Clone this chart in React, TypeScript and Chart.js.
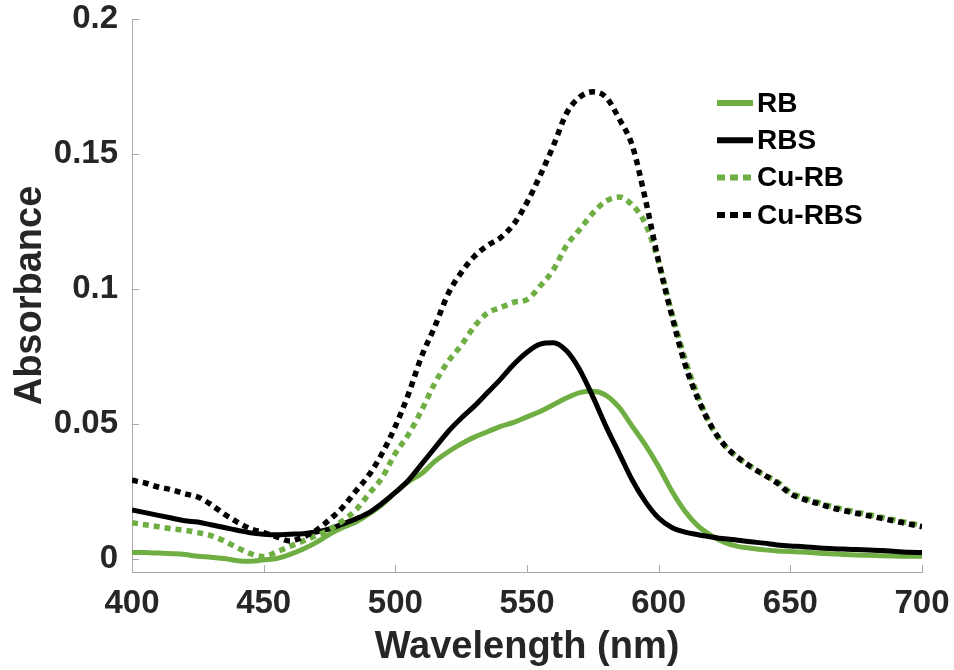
import React, { useEffect, useRef } from "react";
import { Chart, registerables } from "chart.js";

Chart.register(...registerables);

const wavelengths = [
  400, 405, 410, 415, 420, 425, 430, 435, 440, 445, 450, 455, 460, 465, 470, 475, 480, 485, 490, 495,
  500, 505, 510, 515, 520, 525, 530, 535, 540, 545, 550, 555, 560, 565, 570, 575, 580, 585, 590, 595,
  600, 605, 610, 615, 620, 625, 630, 635, 640, 645, 650, 655, 660, 665, 670, 675, 680, 685, 690, 695, 700,
];

const rb = [
  0.0022, 0.0022, 0.002, 0.0018, 0.0015, 0.0008, 0.0005, 0.0, -0.0008, -0.001, -0.0005, 0.0, 0.0015, 0.0035, 0.006, 0.009, 0.0115, 0.0135, 0.0165, 0.02,
  0.0245, 0.0285, 0.0315, 0.036, 0.0395, 0.0425, 0.045, 0.047, 0.049, 0.0505, 0.0525, 0.0545, 0.057, 0.0595, 0.0615, 0.062, 0.0605, 0.056, 0.049, 0.042,
  0.034, 0.025, 0.0175, 0.012, 0.0085, 0.006, 0.0045, 0.0038, 0.0032, 0.0028, 0.0026, 0.0024, 0.002, 0.0018, 0.0015, 0.0013, 0.0012, 0.001, 0.0009, 0.0008, 0.0008,
];

const rbs = [
  0.018, 0.017, 0.016, 0.015, 0.014, 0.0135, 0.0125, 0.0115, 0.0105, 0.0095, 0.009, 0.0088, 0.009, 0.0092, 0.0098, 0.011, 0.0128, 0.0147, 0.017, 0.0205,
  0.0245, 0.029, 0.035, 0.041, 0.047, 0.052, 0.0565, 0.0615, 0.0665, 0.072, 0.0765, 0.0795, 0.08, 0.077, 0.07, 0.06, 0.049, 0.039, 0.029, 0.021,
  0.015, 0.0115, 0.0098, 0.0088, 0.008, 0.0073, 0.0068, 0.0062, 0.0057, 0.005, 0.0046, 0.0044, 0.004, 0.0037, 0.0035, 0.0033, 0.0032, 0.003, 0.0026, 0.0023, 0.0022,
];

const cuRb = [
  0.0133, 0.0125, 0.0118, 0.011, 0.0105, 0.0096, 0.0085, 0.0065, 0.004, 0.0018, 0.0007, 0.0025, 0.0045, 0.0065, 0.0085, 0.0107, 0.014, 0.018, 0.024, 0.03,
  0.039, 0.046, 0.055, 0.065, 0.073, 0.079, 0.086, 0.091, 0.093, 0.095, 0.096, 0.101, 0.107, 0.116, 0.122, 0.128, 0.1325, 0.134, 0.131, 0.124,
  0.11, 0.091, 0.074, 0.06, 0.049, 0.042, 0.0375, 0.034, 0.031, 0.0285, 0.0245, 0.0225, 0.021, 0.0195, 0.0183, 0.0172, 0.0162, 0.0152, 0.0142, 0.0132, 0.0122,
];

const cuRbs = [
  0.029, 0.028, 0.0265, 0.0255, 0.024, 0.0228, 0.02, 0.0165, 0.0135, 0.011, 0.0096, 0.008, 0.0065, 0.008, 0.0105, 0.0144, 0.019, 0.025, 0.031, 0.039,
  0.049, 0.061, 0.075, 0.086, 0.098, 0.106, 0.112, 0.116, 0.119, 0.124, 0.132, 0.142, 0.153, 0.165, 0.171, 0.173, 0.171, 0.163, 0.153, 0.133,
  0.11, 0.09, 0.072, 0.059, 0.049, 0.042, 0.0375, 0.034, 0.031, 0.028, 0.024, 0.022, 0.0205, 0.019, 0.0178, 0.0168, 0.0158, 0.0148, 0.0138, 0.0128, 0.0118,
];

const seriesNames = ["RB", "RBS", "Cu-RB", "Cu-RBS"];
const xTicks = [400, 450, 500, 550, 600, 650, 700];
const yTicks = [0, 0.05, 0.1, 0.15, 0.2];

const GREEN = "#6fae42";
const BLACK = "#000000";
const AXIS = "#a8a8a8";
const TEXT = "#262626";
const FONT = "'Liberation Sans', Arial, Helvetica, sans-serif";

const toPoints = (ys: number[]) => wavelengths.map((x, i) => ({ x, y: ys[i] }));

const zeroPadding = (scale: any) => {
  scale.paddingTop = 0;
  scale.paddingBottom = 0;
  scale.paddingLeft = 0;
  scale.paddingRight = 0;
};

const inwardTicks = {
  id: "inwardTicks",
  afterDraw(chart: any) {
    const { ctx, chartArea, scales } = chart;
    ctx.save();
    ctx.strokeStyle = AXIS;
    ctx.lineWidth = 1;
    ctx.beginPath();
    xTicks.forEach((v) => {
      const px = Math.round(scales.x.getPixelForValue(v)) + 0.5;
      ctx.moveTo(px, chartArea.bottom);
      ctx.lineTo(px, chartArea.bottom - 7);
    });
    yTicks.forEach((v) => {
      const py = Math.round(scales.y.getPixelForValue(v)) + 0.5;
      ctx.moveTo(chartArea.left, py);
      ctx.lineTo(chartArea.left + 7, py);
    });
    ctx.stroke();
    ctx.restore();
  },
};

const customLegend = {
  id: "customLegend",
  afterDraw(chart: any) {
    const { ctx, chartArea } = chart;
    const x0 = chartArea.right - 205;
    const y0 = chartArea.top + 84;
    const styles = [
      { color: GREEN, dash: [] as number[] },
      { color: BLACK, dash: [] as number[] },
      { color: GREEN, dash: [8, 5] },
      { color: BLACK, dash: [8, 5] },
    ];
    ctx.save();
    styles.forEach((s, i) => {
      const y = y0 + i * 37.3;
      ctx.strokeStyle = s.color;
      ctx.lineWidth = 6;
      ctx.lineCap = "butt";
      ctx.setLineDash(s.dash);
      ctx.beginPath();
      ctx.moveTo(x0, y);
      ctx.lineTo(x0 + 36, y);
      ctx.stroke();
      ctx.setLineDash([]);
      ctx.fillStyle = BLACK;
      ctx.font = `bold 28px ${FONT}`;
      ctx.textAlign = "left";
      ctx.textBaseline = "middle";
      ctx.fillText(seriesNames[i], x0 + 40, y + 1);
    });
    ctx.restore();
  },
};

export default function App() {
  const canvasRef = useRef<HTMLCanvasElement | null>(null);

  useEffect(() => {
    if (!canvasRef.current) return;
    const chart = new Chart(canvasRef.current, {
      type: "line",
      data: {
        datasets: [
          {
            label: seriesNames[0],
            data: toPoints(rb),
            borderColor: GREEN,
            borderWidth: 5,
            order: 3,
          },
          {
            label: seriesNames[1],
            data: toPoints(rbs),
            borderColor: BLACK,
            borderWidth: 5,
            order: 2,
          },
          {
            label: seriesNames[2],
            data: toPoints(cuRb),
            borderColor: GREEN,
            borderWidth: 5.5,
            borderDash: [6, 5],
            order: 1,
          },
          {
            label: seriesNames[3],
            data: toPoints(cuRbs),
            borderColor: BLACK,
            borderWidth: 5.5,
            borderDash: [6, 5],
            order: 0,
          },
        ],
      },
      options: {
        animation: false,
        responsive: false,
        maintainAspectRatio: false,
        layout: { padding: { top: 19, right: 32, bottom: 0, left: 0 } },
        elements: {
          point: { radius: 0, hoverRadius: 0 },
          line: { cubicInterpolationMode: "monotone", fill: false, borderCapStyle: "butt" },
        },
        plugins: {
          legend: { display: false },
          tooltip: { enabled: false },
        },
        scales: {
          x: {
            type: "linear",
            min: 400,
            max: 700,
            afterBuildTicks: (scale: any) => {
              scale.ticks = xTicks.map((value) => ({ value }));
            },
            afterFit: (scale: any) => {
              scale.height = 98;
              zeroPadding(scale);
            },
            grid: { display: false, drawTicks: false },
            border: { display: true, color: AXIS, width: 1 },
            ticks: {
              color: TEXT,
              padding: 12,
              maxRotation: 0,
              font: { family: FONT, size: 33, weight: "bold" },
              callback: (v: any) => String(v),
            },
            title: {
              display: true,
              text: "Wavelength (nm)",
              color: TEXT,
              padding: { top: 0, bottom: 0 },
              font: { family: FONT, size: 38, weight: "bold" },
            },
          },
          y: {
            type: "linear",
            min: -0.005,
            max: 0.2,
            afterBuildTicks: (scale: any) => {
              scale.ticks = yTicks.map((value) => ({ value }));
            },
            afterFit: (scale: any) => {
              scale.width = 132;
              zeroPadding(scale);
            },
            grid: { display: false, drawTicks: false },
            border: { display: true, color: AXIS, width: 1 },
            ticks: {
              color: TEXT,
              padding: 14,
              font: { family: FONT, size: 33, weight: "bold" },
              callback: (v: any) => String(+Number(v).toFixed(3)),
            },
            title: {
              display: true,
              text: "Absorbance",
              color: TEXT,
              padding: { top: 8, bottom: 0 },
              font: { family: FONT, size: 38, weight: "bold" },
            },
          },
        },
      },
      plugins: [inwardTicks, customLegend],
    });
    return () => chart.destroy();
  }, []);

  return (
    <div style={{ position: "fixed", left: 0, top: 0, width: 954, height: 670, background: "#fff" }}>
      <canvas ref={canvasRef} width={954} height={670} style={{ width: 954, height: 670, display: "block" }} />
    </div>
  );
}
